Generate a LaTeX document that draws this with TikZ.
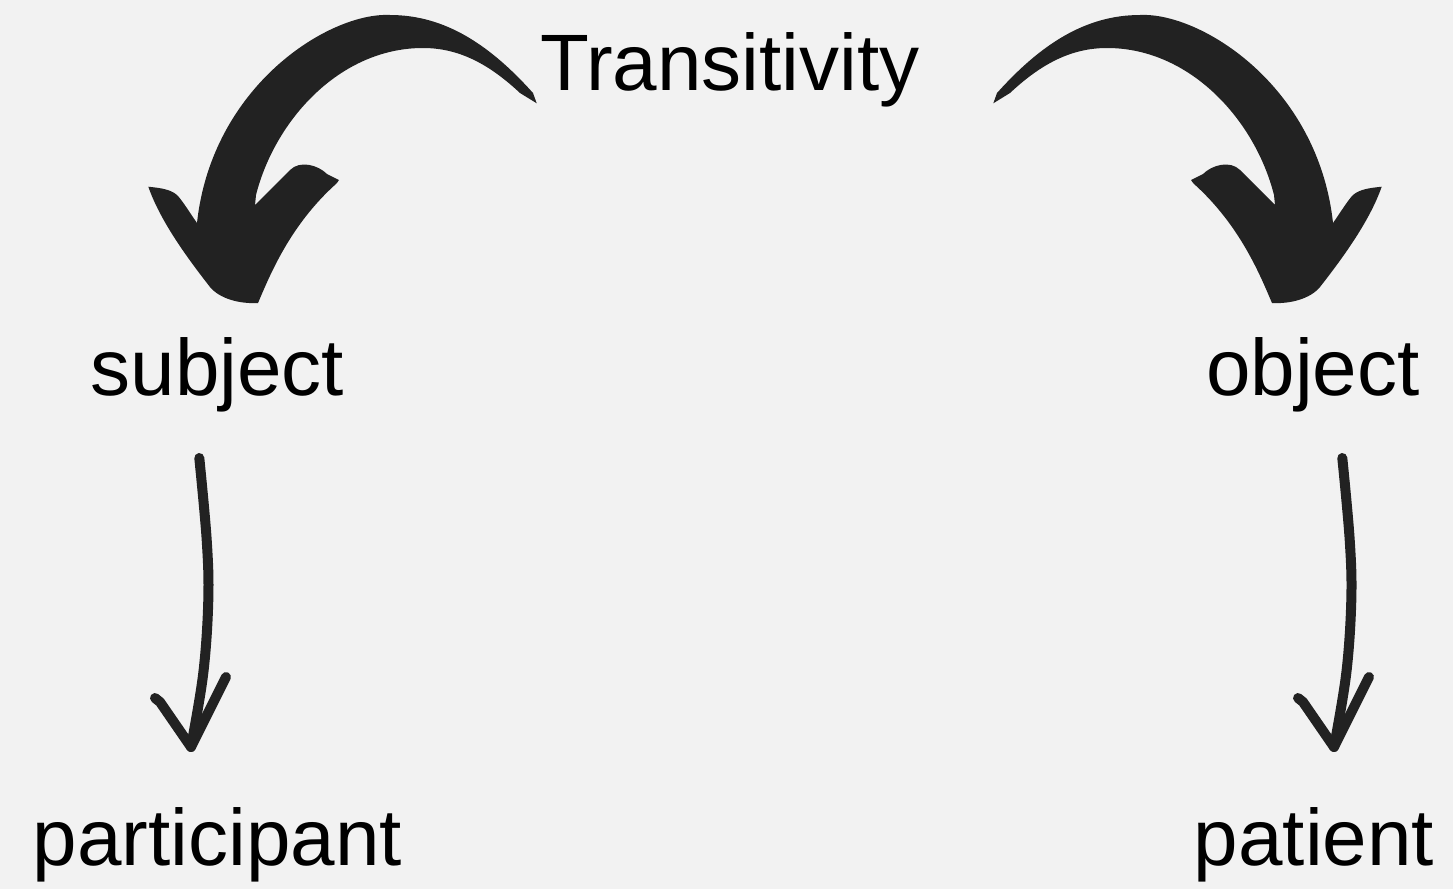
\documentclass[tikz,border=0pt]{standalone}
\usepackage{fontspec}
\setmainfont{Liberation Sans}
\definecolor{bgc}{HTML}{F2F2F2}
\definecolor{ink}{HTML}{222222}
\begin{document}
\begin{tikzpicture}[x=1pt,y=-1pt,
  lbl/.style={inner sep=0pt, anchor=base, text=black, font=\fontsize{80}{96}\selectfont},
  thin arrow/.style={draw=ink, line width=10pt, line cap=round, line join=round}]
\fill[bgc] (0,0) rectangle (1453,889);
\useasboundingbox (0,0) rectangle (1453,889);

\node[lbl] (trans) at (730,90) {Transitivity};
\node[lbl] (subj) at (217.5,395) {subject};
\node[lbl] (obj) at (1313,395) {object};
\node[lbl] (part) at (217.5,865) {participant};
\node[lbl] (pat) at (1314,865) {patient};

\foreach \s/\dx in {1/0,-1/1530}{
  \begin{scope}[shift={(\dx,0)}, xscale=\s]
    \fill[ink] (536.7,103.3) -- (533,93)
      .. controls (490,45) and (445,15) .. (390,15)
      .. controls (330,12) and (212,85) .. (197,223)
      .. controls (190,213) and (182,200) .. (177,195)
      .. controls (170,189) and (160,188) .. (148.3,186.7)
      .. controls (160,220) and (185,255) .. (210,287)
      .. controls (220,299) and (240,304) .. (258,303)
      .. controls (270,275) and (290,225) .. (336.7,183.3)
      -- (339,180) -- (327,174)
      .. controls (318,165) and (300,160) .. (290,170)
      -- (255,205) -- (256,195)
      .. controls (275,120) and (340,48) .. (423,48)
      .. controls (460,48) and (490,65) .. (520,93)
      -- cycle;
  \end{scope}
}

\foreach \dx/\nm in {0/l,1143/r}{
  \begin{scope}[shift={(\dx,0)}]
    \coordinate (\nm top) at (199.3,458);
    \coordinate (\nm tip) at (191,747);
    \draw[thin arrow] plot[smooth,tension=0.6] coordinates {(199.3,458) (206.7,540) (208.3,600) (203.3,673) (191,747)};
    \draw[thin arrow] (155,698) -- (160,702) -- (\nm tip) -- (226,677);
  \end{scope}
}
\end{tikzpicture}
\end{document}
